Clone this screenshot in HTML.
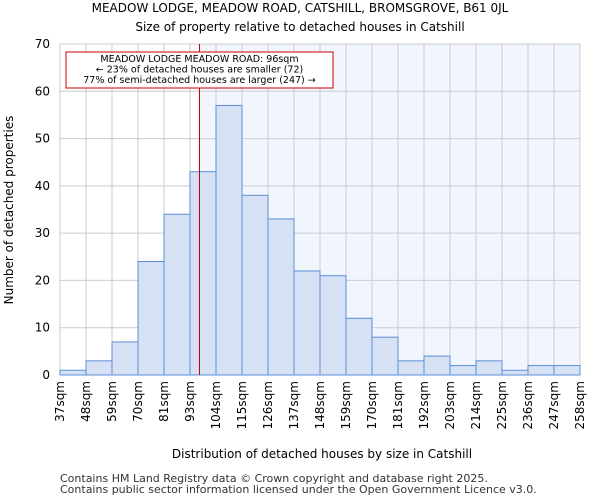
<!DOCTYPE html>
<html><head><meta charset="utf-8"><style>body{margin:0;background:#fff}svg{display:block;font-family:"DejaVu Sans","Liberation Sans",sans-serif}</style></head>
<body>
<svg id="c" width="600" height="500">
<rect x="0" y="0" width="600" height="500" fill="#fff"/>
<text x="300" y="12" text-anchor="middle" font-size="12">MEADOW LODGE, MEADOW ROAD, CATSHILL, BROMSGROVE, B61 0JL</text>
<text x="300" y="31" text-anchor="middle" font-size="12">Size of property relative to detached houses in Catshill</text>
<g id="plot"></g>
<text x="322" y="458" text-anchor="middle" font-size="12">Distribution of detached houses by size in Catshill</text>
<text transform="translate(13,210) rotate(-90)" text-anchor="middle" font-size="12">Number of detached properties</text>
<text x="60" y="482" font-size="11" fill="#333">Contains HM Land Registry data © Crown copyright and database right 2025.</text>
<text x="60" y="493" font-size="11" fill="#333">Contains public sector information licensed under the Open Government Licence v3.0.</text>
</svg>
<script>
const categories=["37sqm","48sqm","59sqm","70sqm","81sqm","93sqm","104sqm","115sqm","126sqm","137sqm","148sqm","159sqm","170sqm","181sqm","192sqm","203sqm","214sqm","225sqm","236sqm","247sqm","258sqm"];
const counts=[1,3,7,24,34,43,57,38,33,22,21,12,8,3,4,2,3,1,2,2];
const yTicks=[0,10,20,30,40,50,60,70];
const propertyValue=96;
const binStart=37, binWidthSqm=11;
const X0=60,X1=580,Y0=375,Y1=44,YMAX=70;
const bw=(X1-X0)/counts.length;
const xs=i=>X0+i*bw;
const xv=v=>X0+(v-binStart)/binWidthSqm*bw;
const ys=v=>Y0-(v/YMAX)*(Y0-Y1);
const NS="http://www.w3.org/2000/svg";
const g=document.getElementById('plot');
function mk(t,a){const e=document.createElementNS(NS,t);for(const k in a)e.setAttribute(k,a[k]);g.appendChild(e);return e;}
const px=xv(propertyValue);
let e=mk('rect',{x:px,y:Y1,width:X1-px,height:Y0-Y1,fill:'#f1f5fd'});


yTicks.forEach(t=>{let l=mk('line',{x1:X0,x2:X1,y1:ys(t),y2:ys(t),stroke:'#ccc'});


let tx=mk('text',{x:X0-10,y:ys(t)+4,'text-anchor':'end','font-size':12});tx.textContent=t;

});
categories.forEach((c,i)=>{let l=mk('line',{x1:xs(i),x2:xs(i),y1:Y1,y2:Y0,stroke:'#ccc'});


let tx=mk('text',{transform:`translate(${xs(i)+4},${Y0+6}) rotate(-90)`,'text-anchor':'end','font-size':12});tx.textContent=c;

});
counts.forEach((v,i)=>{let r=mk('rect',{x:xs(i),y:ys(v),width:bw,height:Y0-ys(v),fill:'#d6e1f4',stroke:'#5b8fd6','stroke-width':1});

});
e=mk('line',{x1:px,x2:px,y1:Y1,y2:Y0,stroke:'#b00','stroke-width':1});


e=mk('rect',{x:66,y:52,width:267,height:36,fill:'#fff',stroke:'#c00'});


["MEADOW LODGE MEADOW ROAD: 96sqm","← 23% of detached houses are smaller (72)","77% of semi-detached houses are larger (247) →"].forEach((s,i)=>{let t=mk('text',{x:199.5,y:62+i*10.5,'text-anchor':'middle','font-size':9.5});t.textContent=s;

});
</script>
</body></html>
